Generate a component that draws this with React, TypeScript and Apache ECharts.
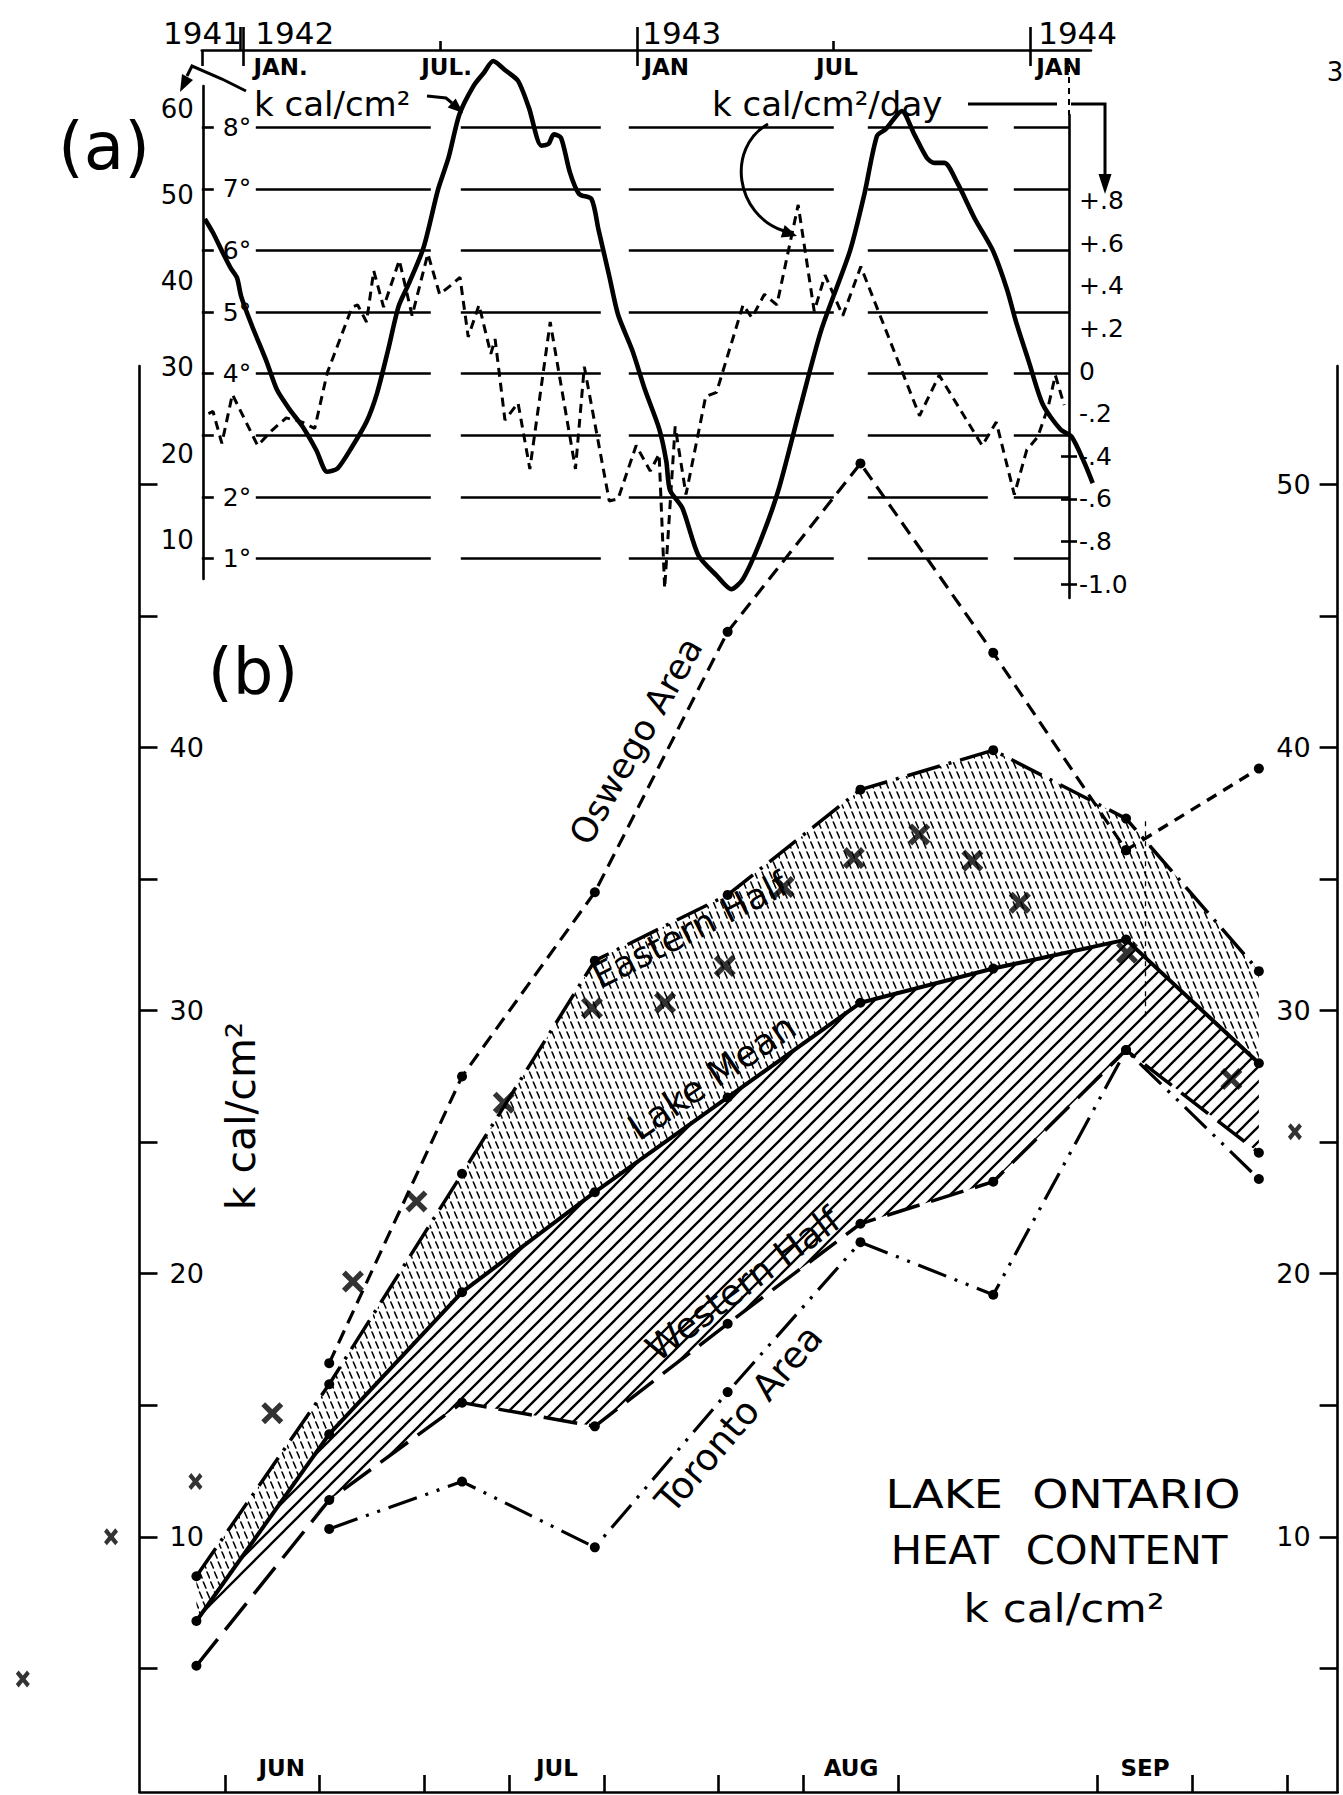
import React, { useEffect, useRef } from "react";
import * as echarts from "echarts";

const FONT = "'DejaVu Sans', 'Liberation Sans', sans-serif";
const INK = "#000";

// ================= Panel (a) — x values: months counted from 1 Jan 1942 =================
const HEAT_CONTENT_KCAL: [number, number][] = [
  [-1.17, 47.2], [-0.92, 45.6], [-0.65, 43.5], [-0.38, 41.5], [-0.19, 40.4], [-0.06, 38.2],
  [0.27, 34.8], [0.71, 30.7], [1.03, 27.4], [1.42, 25.1], [1.8, 23.2], [2.23, 20.4],
  [2.56, 17.9], [2.88, 18.3], [3.32, 20.8], [3.76, 23.7], [4.08, 27.0], [4.41, 31.9],
  [4.74, 37.1], [5.06, 39.8], [5.5, 43.9], [5.94, 50.6], [6.26, 54.3], [6.59, 59.3],
  [7.02, 62.6], [7.35, 64.2], [7.62, 65.5], [8.0, 64.4], [8.38, 63.2], [8.71, 60.1],
  [9.09, 55.7], [9.31, 55.9], [9.47, 57.0], [9.69, 56.6], [9.96, 52.6], [10.24, 50.1],
  [10.62, 49.5], [10.83, 46.0], [11.16, 40.6], [11.43, 36.1], [11.87, 31.9], [12.25, 27.4],
  [12.69, 22.8], [12.9, 19.1], [13.01, 15.8], [13.39, 13.7], [13.88, 8.2], [14.43, 5.9],
  [14.88, 4.3], [15.24, 5.5], [15.78, 10.0], [16.32, 15.8], [16.98, 25.3], [17.63, 34.4],
  [18.5, 43.5], [18.94, 50.1], [19.32, 56.8], [19.59, 57.6], [20.08, 59.7], [20.46, 57.0],
  [20.84, 54.3], [21.06, 53.7], [21.38, 53.7], [21.77, 51.4], [22.31, 47.2], [22.86, 43.5],
  [23.29, 39.0], [23.56, 35.3], [23.95, 30.7], [24.38, 25.7], [24.92, 22.8], [25.25, 22.0],
  [25.63, 19.1], [25.9, 16.6],
];

const DAILY_CHANGE_KCAL: [number, number][] = [
  [-1.06, -0.2], [-0.92, -0.19], [-0.65, -0.34], [-0.33, -0.11], [0.44, -0.35], [0.87, -0.28],
  [1.31, -0.22], [1.8, -0.24], [2.18, -0.27], [2.56, -0.01], [3.32, 0.3], [3.49, 0.31],
  [3.76, 0.23], [3.98, 0.47], [4.28, 0.3], [4.76, 0.52], [5.15, 0.26], [5.63, 0.55],
  [5.99, 0.36], [6.31, 0.4], [6.61, 0.44], [6.86, 0.16], [7.19, 0.31], [7.55, 0.08],
  [7.68, 0.15], [7.98, -0.23], [8.38, -0.15], [8.74, -0.46], [9.36, 0.23], [10.13, -0.46],
  [10.4, 0.02], [11.16, -0.61], [11.43, -0.6], [11.98, -0.35], [12.41, -0.47], [12.68, -0.39],
  [12.85, -1.02], [13.17, -0.26], [13.5, -0.58], [14.1, -0.12], [14.43, -0.1], [15.24, 0.31],
  [15.51, 0.25], [15.89, 0.36], [16.27, 0.31], [16.92, 0.78], [17.41, 0.28], [17.74, 0.45],
  [18.28, 0.26], [18.83, 0.49], [20.62, -0.21], [21.22, -0.02], [22.53, -0.35], [22.96, -0.24],
  [23.51, -0.58], [23.89, -0.37], [24.22, -0.31], [24.54, -0.17], [24.76, -0.02], [25.03, -0.16],
];

const YEAR_LABELS = ["1941", "1942", "1943", "1944"];
const YEAR_LABEL_MONTHS = [-1.24, 1.57, 13.37, 25.44];
const YEAR_BAR_MONTHS = [-0.1, 0, 12, 24];
const MID_YEAR_TICK_MONTHS = [6, 18];
const MONTH_LABELS_A = ["JAN.", "JUL.", "JAN", "JUL", "JAN"];
const MONTH_LABEL_MONTHS_A = [1.14, 6.2, 12.9, 18.1, 24.87];
const KCAL_LABELS_A = [10, 20, 30, 40, 50, 60];
const RATE_LABELS = [0.8, 0.6, 0.4, 0.2, 0, -0.2, -0.4, -0.6, -0.8, -1.0];
const RATE_CROSS_TICKS = [-0.4, -0.6, -0.8, -1.0];

// ================= Panel (b) =================
const SURVEY_DATES = ["Jun 7", "Jun 21", "Jul 5", "Jul 19", "Aug 2", "Aug 16", "Aug 30", "Sep 13", "Sep 27"];
const OSWEGO_AREA = [null, 16.6, 27.5, 34.5, 44.4, 50.8, 43.6, 36.1, null];
const OSWEGO_LATE = [null, null, null, null, null, null, null, 36.1, 39.2];
const EASTERN_HALF = [8.5, 15.8, 23.8, 31.9, 34.4, 38.4, 39.9, 37.3, 31.5];
const LAKE_MEAN = [6.8, 13.9, 19.3, 23.1, 26.7, 30.3, 31.6, 32.7, 28.0];
const WESTERN_HALF = [5.1, 11.4, 15.1, 14.2, 18.1, 21.9, 23.5, 28.5, 24.6];
const TORONTO_AREA = [null, 10.3, 12.1, 9.6, 15.5, 21.2, 19.2, 28.5, 23.6];
// individual observations, [days after 1 June, kcal/cm2]
const CROSS_OBS: [number, number][] = [
  [14.0, 14.7], [22.5, 19.7], [29.2, 22.75], [38.4, 26.5], [47.7, 30.1], [55.4, 30.3],
  [61.7, 31.7], [67.9, 34.7], [75.3, 35.8], [82.2, 36.7], [87.8, 35.7], [92.8, 34.1],
  [104.1, 32.2], [115.1, 27.4],
];
const SMALL_X_OBS: [number, number][] = [[-12.3, 4.6], [-3.0, 10.0], [5.9, 12.1], [121.8, 25.4]];
const VERTICAL_MARK = { day: 106, from: 37.2, to: 29.6 };

const B_TICK_DATES = ["Jun 10", "Jun 20", "Jul 1", "Jul 10", "Jul 20", "Aug 1", "Aug 10", "Aug 20", "Sep 10", "Sep 20", "Sep 30"];
const B_MONTH_LABELS = ["JUN", "JUL", "AUG", "SEP"];
const B_MONTH_LABEL_DATES = ["Jun 16", "Jul 15", "Aug 15", "Sep 15"];
const KCAL_TICKS_B = [5, 10, 15, 20, 25, 30, 35, 40, 45, 50];
const KCAL_LABELS_B_LEFT = [10, 20, 30, 40];
const KCAL_LABELS_B_RIGHT = [10, 20, 30, 40, 50];

const MONTH_START: Record<string, number> = { Jun: 0, Jul: 30, Aug: 61, Sep: 92, Oct: 122 };
const dayOf = (s: string) => {
  const [m, d] = s.split(" ");
  return MONTH_START[m] + Number(d) - 1;
};
const SURVEY_DAYS = SURVEY_DATES.map(dayOf);
const pairs = (vals: (number | null)[]) =>
  SURVEY_DAYS.map((d, i) => [d, vals[i]]).filter((p) => p[1] != null) as [number, number][];

function makeStipple() {
  const c = document.createElement("canvas");
  c.width = 15;
  c.height = 20;
  const g = c.getContext("2d")!;
  g.strokeStyle = "#000";
  g.lineWidth = 1.6;
  g.lineCap = "round";
  for (const [x, y] of [[0.8, 2], [8.3, 2], [4.5, 12], [12, 12]]) {
    g.beginPath();
    g.moveTo(x, y);
    g.lineTo(x + 2.6, y + 6);
    g.stroke();
  }
  return { image: c, repeat: "repeat", imageWidth: 15, imageHeight: 20 };
}
function makeHatch() {
  const c = document.createElement("canvas");
  c.width = 15;
  c.height = 15;
  const g = c.getContext("2d")!;
  g.strokeStyle = "#000";
  g.lineWidth = 2.3;
  g.beginPath();
  g.moveTo(0, 15); g.lineTo(15, 0);
  g.moveTo(-3, 3); g.lineTo(3, -3);
  g.moveTo(12, 18); g.lineTo(18, 12);
  g.stroke();
  return { image: c, repeat: "repeat", imageWidth: 15, imageHeight: 15 };
}

const idxOf = (arr: number[], v: number) => arr.findIndex((p) => Math.abs(p - v) < 1e-6);

export default function App() {
  const ref = useRef<HTMLDivElement>(null);
  useEffect(() => {
    if (!ref.current) return;
    const chart = echarts.init(ref.current, undefined, { renderer: "svg" });
    const stipple = makeStipple();
    const hatch = makeHatch();

    const A_LEFT = 201.8;
    const M0 = -1.262;
    const PPM = 32.8; // px per month
    const mEnd = (w: number) => M0 + w / PPM;
    const line = { color: INK, width: 2.6 };
    const axLine = { show: true, onZero: false, lineStyle: line };
    const noLine = { show: false, onZero: false };
    const txt = { color: INK, fontFamily: FONT };
    const hidden = (gridIndex: number, min = 1, max = 2) => ({
      gridIndex, type: "value", show: false, min, max, axisLine: { onZero: false },
    });
    const B_X = 9;
    const B_Y = 9;

    const fillSeries = (upper: [number, number][], lower: [number, number][], pattern: any) => ({
      type: "custom",
      xAxisIndex: B_X,
      yAxisIndex: B_Y,
      silent: true,
      z: 1,
      data: upper,
      renderItem: (params: any, api: any) => {
        if (params.dataIndex !== 0) return null;
        const pts = upper.map((p) => api.coord(p)).concat(lower.map((p) => api.coord(p)).reverse());
        return { type: "polygon", shape: { points: pts }, style: { fill: pattern, stroke: "none" } };
      },
    });

    const hatchLower = pairs(WESTERN_HALF.map((v, i) => (i === 0 ? LAKE_MEAN[0] : v)));

    const bLine = (name: string, vals: (number | null)[], type: any, width: number, extra: any = {}) => ({
      name,
      type: "line",
      xAxisIndex: B_X,
      yAxisIndex: B_Y,
      data: pairs(vals),
      symbol: "circle",
      symbolSize: 10,
      itemStyle: { color: INK },
      lineStyle: { color: INK, width, type },
      silent: true,
      z: 3,
      ...extra,
    });

    const T = (text: string, x: number, y: number, fontSize: number, deg = 0, extra: any = {}) => ({
      type: "text",
      x,
      y,
      rotation: (deg * Math.PI) / 180,
      silent: true,
      z: 10,
      ...extra,
      style: { text, fontSize, fontFamily: FONT, fill: INK, align: "center", verticalAlign: "middle", ...(extra.style || {}) },
    });
    const poly = (points: number[][], w = 3) => ({
      type: "polyline", silent: true, z: 10, shape: { points }, style: { stroke: INK, lineWidth: w, fill: "none" },
    });
    const head = (points: number[][]) => ({ type: "polygon", silent: true, z: 10, shape: { points }, style: { fill: INK } });

    const timeGrid = () => ({ left: A_LEFT, top: 50, width: 889.2, height: 500 });
    const rateGrid = () => ({ left: A_LEFT, top: 115.4, width: 867.2, height: 511.2 });

    const option: any = {
      animation: false,
      backgroundColor: "#fff",
      grid: [
        timeGrid(), // 0 years
        timeGrid(), // 1 months
        timeGrid(), // 2 year bars below the line
        { left: A_LEFT, top: 22.2, width: 895, height: 604.1 }, // 3 kcal
        { left: A_LEFT, top: 127.1, width: 867.2, height: 431.6 }, // 4 temperature
        rateGrid(), // 5 rate labels
        rateGrid(), // 6 rate inner ticks
        { left: 203, top: 86, width: 866, height: 493 }, // 7 left axis line
        { left: A_LEFT, top: 115, width: 867.2, height: 483 }, // 8 right axis line
        { left: 139.5, top: 366.1, width: 1198.1, bottom: 3 }, // 9 panel (b)
      ],
      xAxis: [
        {
          gridIndex: 0, type: "value", position: "top", min: M0, max: mEnd(889.2),
          axisLine: axLine,
          axisTick: { show: true, length: 23, customValues: YEAR_BAR_MONTHS, lineStyle: line },
          axisLabel: {
            show: true, customValues: YEAR_LABEL_MONTHS, margin: 2, fontSize: 31, ...txt,
            formatter: (v: number) => YEAR_LABELS[idxOf(YEAR_LABEL_MONTHS, v)] ?? "",
          },
          splitLine: { show: false },
        },
        {
          gridIndex: 1, type: "value", position: "top", min: M0, max: mEnd(889.2),
          axisLine: noLine,
          axisTick: { show: true, length: 9, customValues: MID_YEAR_TICK_MONTHS, lineStyle: line },
          axisLabel: {
            show: true, inside: true, customValues: MONTH_LABEL_MONTHS_A, margin: 5, fontSize: 23, fontWeight: "bold", ...txt,
            formatter: (v: number) => MONTH_LABELS_A[idxOf(MONTH_LABEL_MONTHS_A, v)] ?? "",
          },
          splitLine: { show: false },
        },
        {
          gridIndex: 2, type: "value", position: "top", min: M0, max: mEnd(889.2),
          axisLine: noLine,
          axisTick: { show: true, inside: true, length: 16, customValues: [M0 + 0.01, 0, 12, 24], lineStyle: line },
          axisLabel: { show: false },
          splitLine: { show: false },
        },
        hidden(3, M0, mEnd(895)),
        hidden(4),
        hidden(5, M0, mEnd(867.2)),
        hidden(6, M0, mEnd(867.2)),
        hidden(7),
        hidden(8),
        {
          gridIndex: 9, type: "value", position: "bottom", min: 0, max: 126.3,
          axisLine: axLine,
          axisTick: { show: true, inside: true, length: 17, customValues: B_TICK_DATES.map(dayOf), lineStyle: line },
          axisLabel: {
            show: true, inside: true, customValues: B_MONTH_LABEL_DATES.map(dayOf), margin: 13,
            fontSize: 23, fontWeight: "bold", ...txt,
            formatter: (v: number) => B_MONTH_LABELS[idxOf(B_MONTH_LABEL_DATES.map(dayOf), v)] ?? "",
          },
          splitLine: { show: false },
        },
      ],
      yAxis: [
        hidden(0),
        hidden(1),
        hidden(2),
        {
          gridIndex: 3, type: "value", position: "left", min: 0, max: 70,
          axisLine: noLine, axisTick: { show: false }, splitLine: { show: false },
          axisLabel: { show: true, customValues: KCAL_LABELS_A, margin: 8, fontSize: 26, ...txt },
        },
        {
          gridIndex: 4, type: "value", position: "left", min: 1, max: 8, interval: 1,
          axisLine: noLine,
          axisTick: { show: true, inside: true, length: 12, lineStyle: line },
          axisLabel: {
            show: true, inside: true, margin: 21, fontSize: 25, ...txt,
            formatter: (v: number) => (v === 3 ? "" : `${v}°`),
          },
          splitLine: {
            show: true,
            lineStyle: { color: INK, width: 2.6, type: [0, 54, 175, 30, 140, 28, 205, 34, 120, 26, 150, 40] },
          },
        },
        {
          gridIndex: 5, type: "value", position: "right", min: -1.2, max: 1.2,
          axisLine: noLine, splitLine: { show: false },
          axisTick: { show: true, length: 8, customValues: RATE_CROSS_TICKS, lineStyle: line },
          axisLabel: {
            show: true, customValues: RATE_LABELS, margin: 10, fontSize: 25, ...txt,
            formatter: (v: number) => {
              const r = Math.round(v * 10);
              if (r === 0) return "0";
              if (r === -10) return "-1.0";
              return r > 0 ? `+.${r}` : `-.${-r}`;
            },
          },
        },
        {
          gridIndex: 6, type: "value", position: "right", min: -1.2, max: 1.2,
          axisLine: noLine, splitLine: { show: false }, axisLabel: { show: false },
          axisTick: { show: true, inside: true, length: 8, customValues: RATE_CROSS_TICKS, lineStyle: line },
        },
        {
          gridIndex: 7, type: "value", position: "left", min: 1, max: 2,
          axisLine: axLine, axisTick: { show: false }, axisLabel: { show: false }, splitLine: { show: false },
        },
        {
          gridIndex: 8, type: "value", position: "right", min: 1, max: 2,
          axisLine: axLine, axisTick: { show: false }, axisLabel: { show: false }, splitLine: { show: false },
        },
        {
          gridIndex: 9, type: "value", position: "left", min: 0.3, max: 54.5,
          axisLine: axLine,
          axisTick: { show: true, inside: true, length: 18, customValues: KCAL_TICKS_B, lineStyle: line },
          axisLabel: { show: true, inside: true, customValues: KCAL_LABELS_B_LEFT, margin: 30, fontSize: 27, ...txt },
          splitLine: { show: false },
        },
        {
          gridIndex: 9, type: "value", position: "right", min: 0.3, max: 54.5,
          axisLine: axLine,
          axisTick: { show: true, inside: true, length: 18, customValues: KCAL_TICKS_B, lineStyle: line },
          axisLabel: { show: true, inside: true, customValues: KCAL_LABELS_B_RIGHT, margin: 27, fontSize: 27, ...txt },
          splitLine: { show: false },
        },
      ],
      series: [
        {
          name: "Heat content", type: "line", xAxisIndex: 3, yAxisIndex: 3, data: HEAT_CONTENT_KCAL,
          symbol: "none", smooth: 0.25, clip: false, silent: true, z: 4,
          lineStyle: { color: INK, width: 4.6 },
        },
        {
          name: "Daily change", type: "line", xAxisIndex: 5, yAxisIndex: 5, data: DAILY_CHANGE_KCAL,
          symbol: "none", silent: true, z: 3,
          lineStyle: { color: INK, width: 3, type: [9, 6] },
        },
        fillSeries(pairs(EASTERN_HALF), pairs(LAKE_MEAN), stipple),
        fillSeries(pairs(LAKE_MEAN), hatchLower, hatch),
        bLine("Oswego Area", OSWEGO_AREA, [14, 8], 3.2),
        bLine("Oswego Area (late)", OSWEGO_LATE, [11, 8], 3.4, {
          markLine: {
            silent: true, symbol: "none", label: { show: false },
            lineStyle: { color: INK, width: 1.3, type: [5, 5] },
            data: [[{ coord: [VERTICAL_MARK.day, VERTICAL_MARK.from] }, { coord: [VERTICAL_MARK.day, VERTICAL_MARK.to] }]],
          },
        }),
        bLine("Eastern Half", EASTERN_HALF, [34, 9, 3, 9], 3.5),
        bLine("Lake Mean", LAKE_MEAN, "solid", 4),
        bLine("Western Half", WESTERN_HALF, [34, 12], 3.5),
        bLine("Toronto Area", TORONTO_AREA, [30, 9, 3, 9, 3, 9], 3.2),
        {
          name: "Observations", type: "scatter", xAxisIndex: B_X, yAxisIndex: B_Y, data: CROSS_OBS, clip: false,
          symbol: "path://M0,3.5L3.5,0L10,6.5L16.5,0L20,3.5L13.5,10L20,16.5L16.5,20L10,13.5L3.5,20L0,16.5L6.5,10Z",
          symbolSize: 22, itemStyle: { color: INK }, silent: true, z: 5,
        },
        {
          name: "Observations (x)", type: "scatter", xAxisIndex: B_X, yAxisIndex: B_Y, data: SMALL_X_OBS, clip: false,
          symbol: "path://M0,4L4,0L10,6L16,0L20,4L14,10L20,16L16,20L10,14L4,20L0,16L6,10Z",
          symbolSize: [14, 17], itemStyle: { color: INK }, silent: true, z: 5,
        },
      ],
      graphic: [
        T("(a)", 104, 146, 66),
        T("(b)", 253, 672, 64),
        T("k cal/cm²", 254, 104, 34, 0, { style: { align: "left" } }),
        T("k cal/cm²/day", 712, 104, 34, 0, { style: { align: "left" } }),
        poly([[427, 96], [446, 98], [452, 103]]),
        head([[463, 113], [447.7, 107.6], [455.7, 98.6]]),
        poly([[968, 104], [1057, 104]]),
        poly([[1071, 104], [1105, 104], [1105, 178]]),
        head([[1105, 194], [1098.5, 174], [1111.5, 174]]),
        {
          type: "bezierCurve", silent: true, z: 10,
          shape: { x1: 768, y1: 124, cpx1: 726, cpy1: 148, cpx2: 735, cpy2: 215, x2: 784, y2: 231 },
          style: { stroke: INK, lineWidth: 3, fill: "none" },
        },
        head([[797, 236], [780.7, 237.5], [784.7, 225.1]]),
        poly([[246, 91], [222, 79], [192, 66], [187, 76]]),
        head([[180, 92], [193, 80], [182, 74]]),
        {
          type: "line", silent: true, z: 10, shape: { x1: 1069, y1: 66, x2: 1069, y2: 115 },
          style: { stroke: INK, lineWidth: 2, lineDash: [6, 5] },
        },
        T("3", 1335, 72, 26),
        T("Oswego Area", 636, 741, 35, 60.3),
        T("Eastern Half", 690, 930, 35, 27),
        T("Lake Mean", 712, 1077, 36, 34.2),
        T("Western Half", 743, 1284, 36, 36.5),
        T("Toronto Area", 739, 1419, 37, 49.3),
        T("k cal/cm²", 241, 1116, 41, 90),
        T("LAKE  ONTARIO", 1063, 1494, 39, 0, { scaleX: 1.18 }),
        T("HEAT  CONTENT", 1059, 1551, 39, 0, { scaleX: 1.07 }),
        T("k cal/cm²", 1064, 1609, 39, 0, { scaleX: 1.12 }),
      ],
    };
    chart.setOption(option);
    return () => chart.dispose();
  }, []);
  return (
    <div
      ref={ref}
      style={{ position: "absolute", left: 0, top: 0, width: 1343, height: 1795, background: "#fff" }}
    />
  );
}
